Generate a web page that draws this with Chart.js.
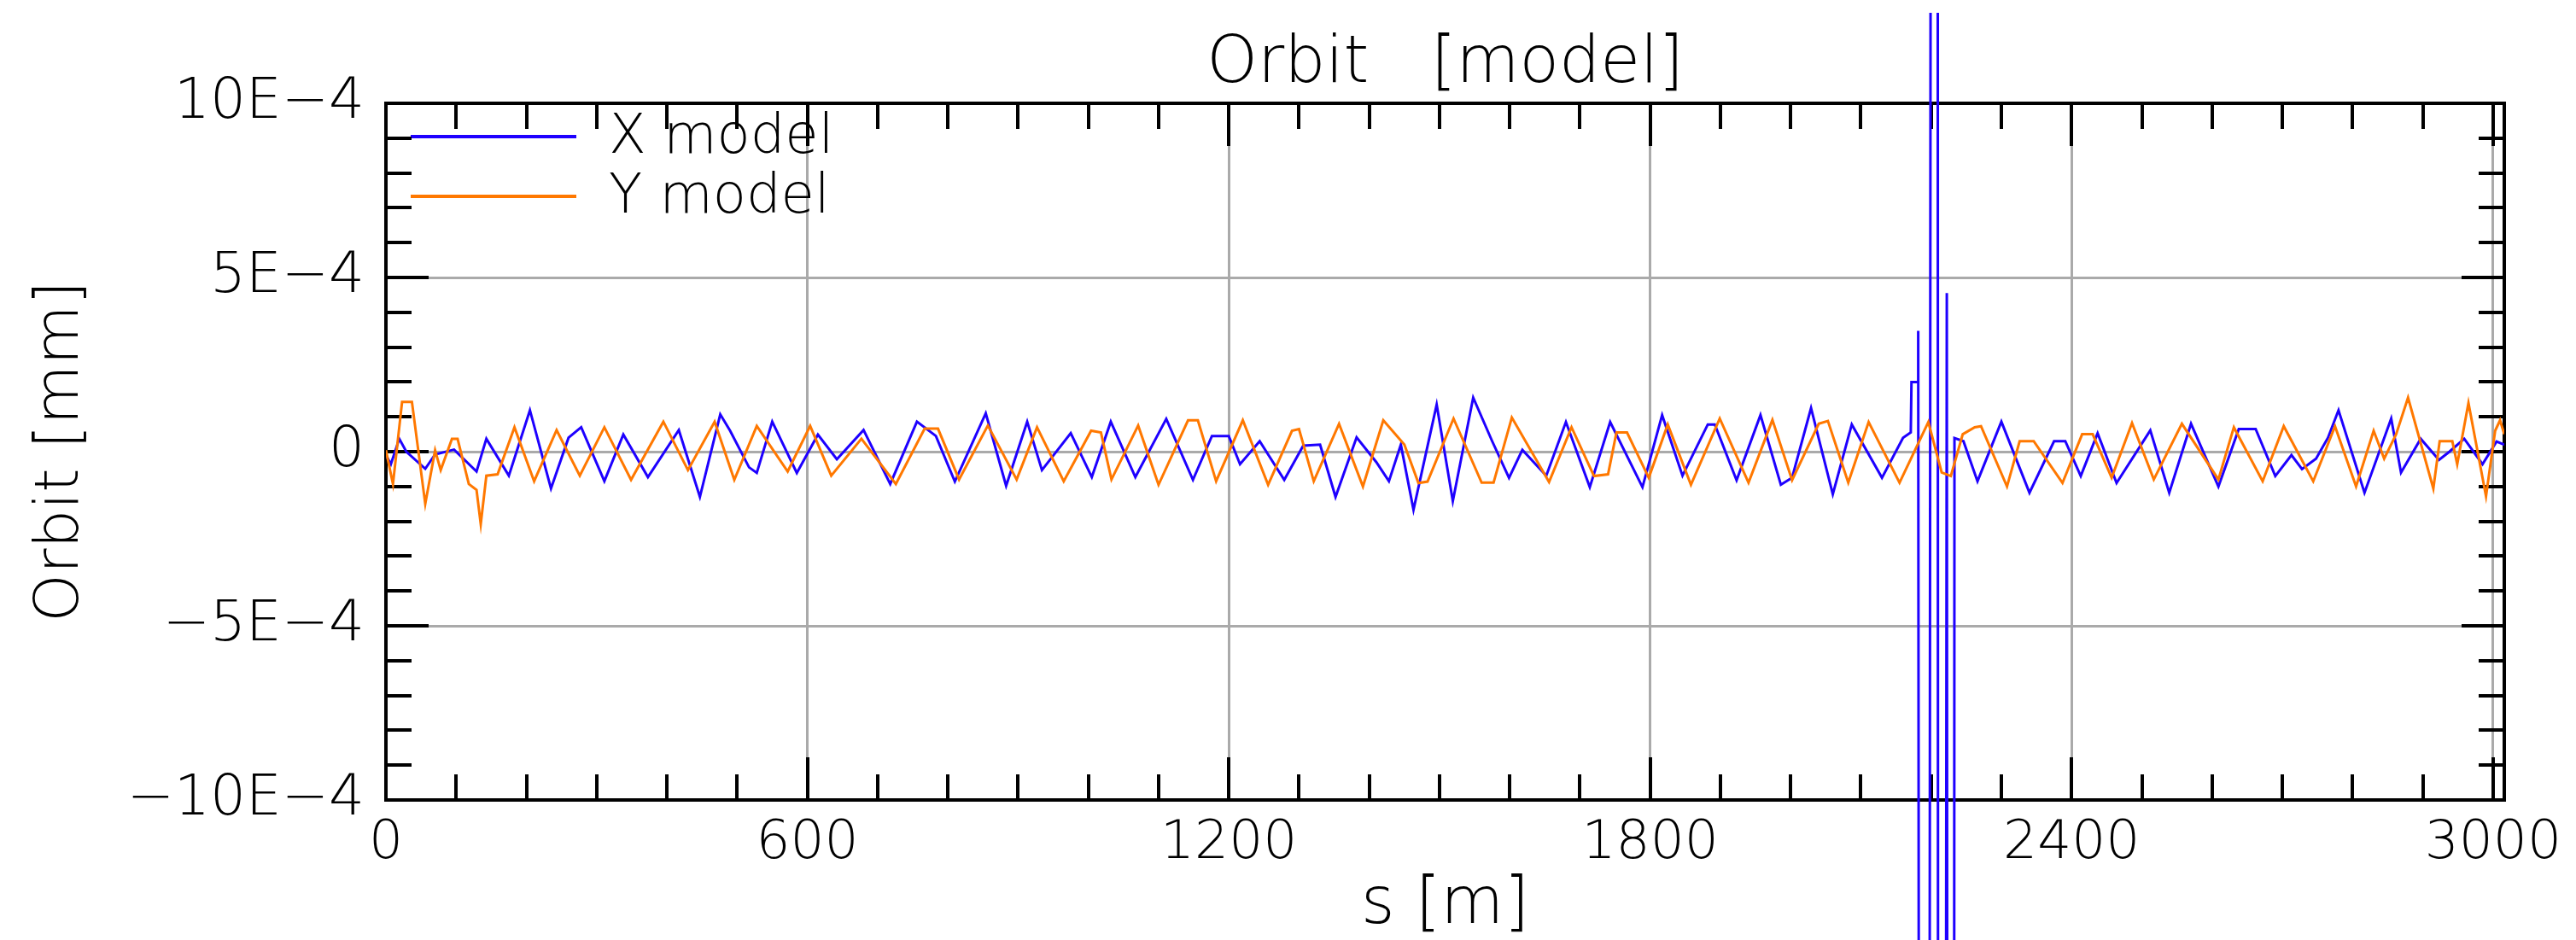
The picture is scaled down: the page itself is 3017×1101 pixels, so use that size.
<!DOCTYPE html>
<html>
<head>
<meta charset="utf-8">
<script src="https://cdn.jsdelivr.net/npm/chart.js@4.4.1/dist/chart.umd.min.js"></script>
<style>
  html, body { margin: 0; padding: 0; background: #ffffff; }
  #wrap { width: 3017px; height: 1101px; position: relative; }
</style>
</head>
<body>
<div id="wrap"><canvas id="c" width="3017" height="1101"></canvas></div>
<script>
// ---------------- data (values in units of 1E-4 mm) ----------------
const S_X = [0,7,19,29,56,70,97,129,143,175,205,235,260,278,311,338,373,417,447,476,490,517,528,550,585,615,642,680,718,756,783,
  810,854,883,913,934,975,1005,1032,1067,1111,1149,1176,1200,1216,1244,1279,1306,1330,1352,1382,1410,1428,1445,1463,1496,1519,1548,
  1575,1599,1618,1652,1680,1714,1743,1789,1817,1846,1882,1892,1923,1957,1986,2002,2029,2060,2087,2130,2160,2171,2172,2181,
  2181.6,2190,2207.2,2212,2222.3,2228,2233.2,2246,2266,2300,2340,2375,2391,2413,2437,2464,2512,2539,2570,2609,2638,2662,2690,
  2713,2728,2748,2765,2780,2817,2855,2869,2897,2923,2938,2959,2985,3005,3016];
const X_MODEL = [-0.1,-0.36,0.37,0.0,-0.49,-0.08,0.06,-0.57,0.37,-0.69,1.19,-1.06,0.4,0.7,-0.85,0.49,-0.73,0.62,-1.3,1.07,0.6,-0.45,-0.61,0.86,-0.61,0.49,-0.22,0.62,-0.93,0.86,0.45,
  -0.86,1.1,-0.98,0.86,-0.53,0.53,-0.73,0.86,-0.73,0.94,-0.81,0.45,0.45,-0.36,0.3,-0.81,0.17,0.2,-1.3,0.41,-0.3,-0.85,0.2,-1.67,1.35,-1.42,1.55,
  0.3,-0.75,0.05,-0.69,0.85,-1.02,0.85,-1.02,1.05,-0.69,0.78,0.78,-0.82,1.05,-0.95,-0.75,1.25,-1.22,0.78,-0.75,0.4,0.55,2.0,2.0,
  3.47,-200,200,-200,4.55,-200,0.39,0.3,-0.85,0.86,-1.18,0.3,0.3,-0.7,0.53,-0.9,0.61,-1.18,0.8,-1.0,0.65,0.65,-0.7,
  -0.1,-0.5,-0.2,0.4,1.19,-1.18,0.95,-0.6,0.37,-0.24,0.0,0.37,-0.36,0.29,0.2];

const S_Y = [0,10,23,37,56,70,78,94,102,118,129,135,143,159,183,211,243,276,311,349,395,430,468,496,528,572,604,634,677,726,767,786,
  816,857,898,927,965,1004,1018,1033,1071,1100,1142,1156,1182,1220,1256,1290,1300,1321,1357,1391,1420,1450,1470,1483,1520,1560,1577,
  1603,1656,1688,1720,1740,1752,1767,1798,1825,1858,1899,1940,1974,2002,2040,2053,2082,2111,2155,2196,2215,2228,2245,2262,2271,
  2308,2326,2346,2387,2415,2430,2457,2486,2517,2557,2609,2631,2672,2702,2744,2775,2805,2830,2845,2862,2879,2915,2924,2942,2949,
  2965,2990,3003,3010,3016];
const Y_MODEL = [0.04,-0.93,1.43,1.43,-1.5,0.04,-0.53,0.37,0.37,-0.93,-1.1,-2.08,-0.69,-0.65,0.7,-0.85,0.62,-0.69,0.7,-0.81,0.86,-0.53,0.86,-0.81,0.74,-0.57,0.74,-0.69,0.37,-0.93,0.66,0.66,
  -0.8,0.75,-0.8,0.7,-0.85,0.6,0.55,-0.8,0.75,-0.95,0.9,0.9,-0.85,0.9,-0.95,0.6,0.65,-0.85,0.8,-1.0,0.9,0.2,-0.9,-0.86,0.95,-0.89,-0.89,
  0.98,-0.87,0.7,-0.7,-0.65,0.55,0.55,-0.75,0.78,-0.95,0.95,-0.89,0.91,-0.82,0.8,0.88,-0.89,0.85,-0.89,0.85,-0.6,-0.7,0.5,0.7,0.73,
  -1.0,0.3,0.3,-0.9,0.5,0.5,-0.75,0.82,-0.8,0.8,-0.8,0.7,-0.85,0.73,-0.85,0.73,-1.0,0.6,-0.2,0.5,1.55,-1.06,0.3,0.3,-0.36,
  1.4,-1.28,0.6,0.9,0.5];

const X_TICKS = [0, 600, 1200, 1800, 2400, 3000];
const Y_TICKS = [-10, -5, 0, 5, 10];
const Y_TICK_LABELS = ['\u221210E\u22124', '\u22125E\u22124', '0', '5E\u22124', '10E\u22124'];
const SERIES_LABELS = ['X model', 'Y model'];
const TITLE = 'Orbit   [model]';
const X_TITLE = 's [m]';
const Y_TITLE = 'Orbit [mm]';

// ---------------- styling ----------------
const FONT = "'DejaVu Sans', sans-serif";
const W = 200;
const BLUE = '#1e00ff';
const ORANGE = '#ff7800';
const GRID = '#aaaaaa';

const toPoints = (xs, ys) => xs.map((s, i) => ({ x: s, y: ys[i] }));

const frameTicks = {
  id: 'frameTicks',
  beforeDatasetsDraw(chart) {
    const { ctx, chartArea: a, scales: { x, y } } = chart;
    ctx.save();
    // legend (inside, top-left)
    ctx.font = `${W} 64px ${FONT}`;
    ctx.textBaseline = 'middle';
    ctx.textAlign = 'left';
    chart.data.datasets.forEach((ds, i) => {
      const yy = a.top + 39 + i * 70;
      ctx.strokeStyle = ds.borderColor;
      ctx.lineWidth = 4;
      ctx.beginPath();
      ctx.moveTo(a.left + 29, yy);
      ctx.lineTo(a.left + 223, yy);
      ctx.stroke();
      ctx.fillStyle = '#000';
      ctx.fillText(ds.label, a.left + 261, yy + 2);
    });
    ctx.strokeStyle = '#000';
    ctx.lineWidth = 4;
    ctx.beginPath();
    const seg = (x1, y1, x2, y2) => { ctx.moveTo(x1, y1); ctx.lineTo(x2, y2); };
    for (let s = 100; s < x.max; s += 100) {
      const px = Math.round(x.getPixelForValue(s));
      const len = s % 600 === 0 ? 50 : 30;
      seg(px, a.bottom, px, a.bottom - len);
      seg(px, a.top, px, a.top + len);
    }
    for (let v = y.min + 1; v < y.max; v += 1) {
      const py = Math.round(y.getPixelForValue(v));
      const len = v % 5 === 0 ? 50 : 30;
      seg(a.left, py, a.left + len, py);
      seg(a.right, py, a.right - len, py);
    }
    ctx.stroke();
    ctx.lineWidth = 4;
    ctx.strokeRect(a.left, a.top, a.right - a.left, a.bottom - a.top);
    ctx.restore();
  }
};

new Chart(document.getElementById('c'), {
  type: 'line',
  data: {
    datasets: [
      { label: SERIES_LABELS[0], data: toPoints(S_X, X_MODEL), borderColor: BLUE, borderWidth: 3,
        pointRadius: 0, tension: 0, fill: false, order: 1, xAxisID: 'x', yAxisID: 'y',
        clip: { left: 0, top: 106, right: 0, bottom: 200 } },
      { label: SERIES_LABELS[1], data: toPoints(S_Y, Y_MODEL), borderColor: ORANGE, borderWidth: 3,
        pointRadius: 0, tension: 0, fill: false, order: 0, xAxisID: 'x', yAxisID: 'y' }
    ]
  },
  options: {
    responsive: false,
    animation: false,
    devicePixelRatio: 1,
    layout: { padding: { left: 0, right: 84, top: 0, bottom: 0 } },
    plugins: {
      legend: { display: false },
      tooltip: { enabled: false },
      title: { display: false }
    },
    scales: {
      x: {
        type: 'linear', min: 0, max: 3016, position: 'bottom',
        afterBuildTicks: (sc) => { sc.ticks = X_TICKS.map(v => ({ value: v })); },
        afterFit: (sc) => { sc.height = 164; },
        ticks: { color: '#000', font: { family: FONT, size: 63, weight: W }, padding: 14, maxRotation: 0,
          callback: (v) => String(v) },
        grid: { color: GRID, lineWidth: 3, drawTicks: false },
        border: { display: false },
        title: { display: true, text: X_TITLE, color: '#000',
          font: { family: FONT, size: 76, weight: W, lineHeight: 1 }, padding: { top: 0, bottom: 2 } }
      },
      top: {
        type: 'linear', min: 0, max: 3016, position: 'top',
        afterFit: (sc) => { sc.height = 121; },
        ticks: { display: false },
        grid: { display: false, drawTicks: false },
        border: { display: false },
        title: { display: true, text: TITLE, color: '#000',
          font: { family: FONT, size: 76, weight: W, lineHeight: 1 }, padding: { top: 38, bottom: 0 } }
      },
      y: {
        type: 'linear', min: -10, max: 10,
        afterBuildTicks: (sc) => { sc.ticks = Y_TICKS.map(v => ({ value: v })); },
        afterFit: (sc) => { sc.width = 452; },
        ticks: { color: '#000', font: { family: FONT, size: 66, weight: W }, padding: 25,
          callback: (v) => Y_TICK_LABELS[Y_TICKS.indexOf(v)] },
        grid: { color: GRID, lineWidth: 3, drawTicks: false },
        border: { display: false },
        title: { display: true, text: Y_TITLE, color: '#000',
          font: { family: FONT, size: 72, weight: W, lineHeight: 1 }, padding: { top: 36, bottom: 0 } }
      }
    }
  },
  plugins: [frameTicks]
});
</script>
</body>
</html>
